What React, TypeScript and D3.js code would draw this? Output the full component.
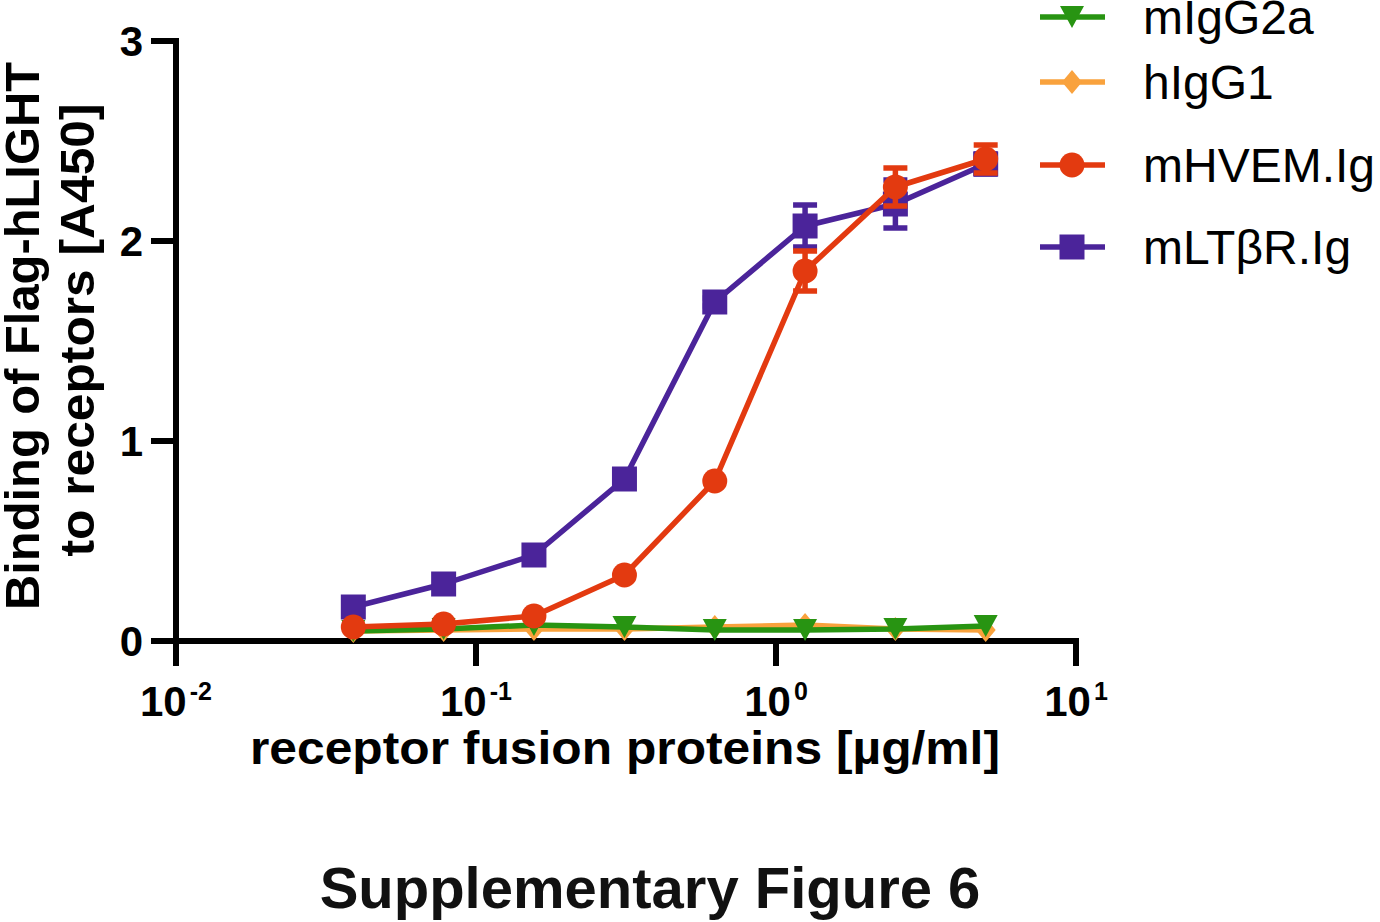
import * as d3 from 'd3';
import React, { useEffect, useRef } from 'react';

// concentrations in µg/ml (2-fold dilution series)
const concentrations = [0.039, 0.078, 0.156, 0.3125, 0.625, 1.25, 2.5, 5];

const mIgG2aValues = [0.05, 0.06, 0.08, 0.07, 0.055, 0.055, 0.06, 0.075];
const hIgG1Values = [0.05, 0.055, 0.06, 0.06, 0.07, 0.08, 0.06, 0.055];
const mHVEMValues = [0.07, 0.085, 0.125, 0.33, 0.8, 1.85, 2.27, 2.41];
const mHVEMErrors = [0, 0, 0, 0, 0, 0.1, 0.095, 0.07];
const mLTbRValues = [0.17, 0.285, 0.43, 0.81, 1.695, 2.075, 2.185, 2.385];
const mLTbRErrors = [0, 0, 0, 0, 0.02, 0.105, 0.12, 0.05];

const yTicks = [0, 1, 2, 3];
const xTicks = [0.01, 0.1, 1, 10];
const xTickExponents = ['-2', '-1', '0', '1'];

type Shape = 'triangleDown' | 'diamond' | 'circle' | 'square';

interface Series {
    name: string;
    values: number[];
    errors: number[] | null;
    color: string;
    shape: Shape;
}

const series: Series[] = [
    { name: 'mIgG2a', values: mIgG2aValues, errors: null, color: '#289412', shape: 'triangleDown' },
    { name: 'hIgG1', values: hIgG1Values, errors: null, color: '#f9a23d', shape: 'diamond' },
    { name: 'mHVEM.Ig', values: mHVEMValues, errors: mHVEMErrors, color: '#e33a10', shape: 'circle' },
    { name: 'mLTβR.Ig', values: mLTbRValues, errors: mLTbRErrors, color: '#4b249a', shape: 'square' },
];

// drawing order (bottom to top)
const drawOrder = ['mLTβR.Ig', 'hIgG1', 'mIgG2a', 'mHVEM.Ig'];

const FONT = '"Liberation Sans", Arial, Helvetica, sans-serif';

function markerPath(shape: Shape, x: number, y: number): string {
    switch (shape) {
        case 'triangleDown':
            return `M${x - 12},${y - 11}L${x + 12},${y - 11}L${x},${y + 11}Z`;
        case 'diamond':
            return `M${x},${y - 12}L${x + 10},${y}L${x},${y + 12}L${x - 10},${y}Z`;
        case 'square':
            return `M${x - 12.5},${y - 12.5}h25v25h-25Z`;
        default:
            return '';
    }
}

const App: React.FC = () => {
    const svgRef = useRef<SVGSVGElement>(null);

    useEffect(() => {
        if (!svgRef.current) return;
        d3.select(svgRef.current).selectAll('*').remove();

        const width = 1380;
        const height = 922;
        const svg = d3.select(svgRef.current)
            .attr('width', width)
            .attr('height', height)
            .attr('font-family', FONT);

        const x = d3.scaleLog().domain([0.01, 10]).range([176, 1076]);
        const y = d3.scaleLinear().domain([0, 3]).range([641, 41]);

        const axisW = 6;
        const tickLen = 25;

        // axes
        const axes = svg.append('g').attr('stroke', '#000').attr('stroke-width', axisW).attr('fill', 'none');
        axes.append('line')
            .attr('x1', x(0.01)).attr('x2', x(0.01))
            .attr('y1', y(3) - axisW / 2).attr('y2', y(0) + tickLen);
        axes.append('line')
            .attr('x1', x(0.01) - tickLen).attr('x2', x(10) + axisW / 2)
            .attr('y1', y(0)).attr('y2', y(0));
        yTicks.filter(t => t > 0).forEach((t) => {
            axes.append('line')
                .attr('x1', x(0.01) - tickLen).attr('x2', x(0.01))
                .attr('y1', y(t)).attr('y2', y(t));
        });
        xTicks.slice(1).forEach((t) => {
            axes.append('line')
                .attr('x1', x(t)).attr('x2', x(t))
                .attr('y1', y(0)).attr('y2', y(0) + tickLen);
        });

        // y tick labels
        yTicks.forEach((t) => {
            svg.append('text')
                .attr('x', 143)
                .attr('y', y(t) + 15)
                .attr('text-anchor', 'end')
                .attr('font-size', 42)
                .attr('font-weight', 'bold')
                .text(String(t));
        });

        // x tick labels: 10^n
        xTicks.forEach((t, i) => {
            const txt = svg.append('text')
                .attr('x', x(t))
                .attr('y', 716)
                .attr('text-anchor', 'middle')
                .attr('font-weight', 'bold');
            txt.append('tspan').attr('font-size', 42).text('10');
            txt.append('tspan')
                .attr('font-size', 25)
                .attr('dx', 3)
                .attr('dy', -16)
                .text(xTickExponents[i]);
        });

        // axis titles
        svg.append('text')
            .attr('x', 625)
            .attr('y', 764)
            .attr('text-anchor', 'middle')
            .attr('font-size', 46)
            .attr('font-weight', 'bold')
            .attr('textLength', 750)
            .attr('lengthAdjust', 'spacingAndGlyphs')
            .text('receptor fusion proteins [µg/ml]');

        svg.append('text')
            .attr('transform', 'translate(39,336) rotate(-90)')
            .attr('text-anchor', 'middle')
            .attr('font-size', 48)
            .attr('font-weight', 'bold')
            .attr('textLength', 548)
            .attr('lengthAdjust', 'spacingAndGlyphs')
            .text('Binding of Flag-hLIGHT');
        svg.append('text')
            .attr('transform', 'translate(94,330) rotate(-90)')
            .attr('text-anchor', 'middle')
            .attr('font-size', 48)
            .attr('font-weight', 'bold')
            .attr('textLength', 453)
            .attr('lengthAdjust', 'spacingAndGlyphs')
            .text('to receptors [A450]');

        // figure caption
        svg.append('text')
            .attr('x', 650)
            .attr('y', 908)
            .attr('text-anchor', 'middle')
            .attr('font-size', 58)
            .attr('font-weight', 'bold')
            .attr('fill', '#111')
            .text('Supplementary Figure 6');

        const drawMarker = (g: d3.Selection<SVGGElement, unknown, null, undefined>, s: Series, cx: number, cy: number) => {
            if (s.shape === 'circle') {
                g.append('circle').attr('cx', cx).attr('cy', cy).attr('r', 12.5).attr('fill', s.color);
            } else {
                g.append('path').attr('d', markerPath(s.shape, cx, cy)).attr('fill', s.color);
            }
        };

        // data series
        const line = d3.line<number>()
            .x((_, i) => x(concentrations[i]))
            .y(d => y(d));

        drawOrder.forEach((name) => {
            const s = series.find(d => d.name === name)!;
            const g = svg.append('g');
            g.append('path')
                .attr('d', line(s.values))
                .attr('fill', 'none')
                .attr('stroke', s.color)
                .attr('stroke-width', 5.5)
                .attr('stroke-linejoin', 'round');

            if (s.errors) {
                s.values.forEach((v, i) => {
                    const e = s.errors![i];
                    if (e <= 0) return;
                    const cx = x(concentrations[i]);
                    g.append('line')
                        .attr('x1', cx).attr('x2', cx)
                        .attr('y1', y(v + e)).attr('y2', y(v - e))
                        .attr('stroke', s.color).attr('stroke-width', 5.5);
                    [v + e, v - e].forEach((yy) => {
                        g.append('line')
                            .attr('x1', cx - 12).attr('x2', cx + 12)
                            .attr('y1', y(yy)).attr('y2', y(yy))
                            .attr('stroke', s.color).attr('stroke-width', 5.5);
                    });
                });
            }

            s.values.forEach((v, i) => drawMarker(g, s, x(concentrations[i]), y(v)));
        });

        // legend
        const legendRows = [17, 82, 165, 247];
        series.forEach((s, i) => {
            const g = svg.append('g');
            const ly = legendRows[i];
            g.append('line')
                .attr('x1', 1040).attr('x2', 1105)
                .attr('y1', ly).attr('y2', ly)
                .attr('stroke', s.color)
                .attr('stroke-width', 5.5);
            drawMarker(g, s, 1072, ly);
            g.append('text')
                .attr('x', 1143)
                .attr('y', ly + 17)
                .attr('font-size', 48)
                .text(s.name);
        });
    }, []);

    return (
        <svg ref={svgRef} style={{ position: 'absolute', left: 0, top: 0, background: '#fff' }}></svg>
    );
};

export default App;
